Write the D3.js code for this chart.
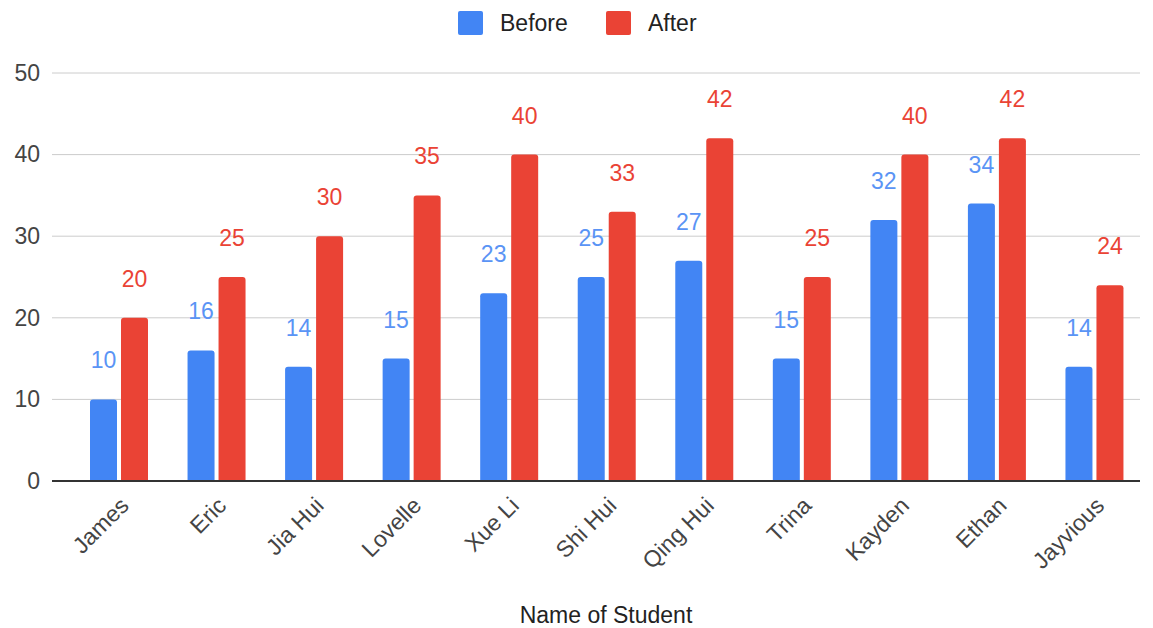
<!DOCTYPE html>
<html>
<head>
<meta charset="utf-8">
<script src="https://cdn.jsdelivr.net/npm/d3@7/dist/d3.min.js"></script>
<style>
  html, body { margin: 0; padding: 0; background: #fff; }
  svg { display: block; font-family: "Liberation Sans", Arial, sans-serif; }
</style>
</head>
<body>
<svg id="chart" width="1153" height="628"></svg>
<script>
// Scores per student, before and after
const students = ["James", "Eric", "Jia Hui", "Lovelle", "Xue Li", "Shi Hui", "Qing Hui", "Trina", "Kayden", "Ethan", "Jayvious"];
const before = [10, 16, 14, 15, 23, 25, 27, 15, 32, 34, 14];
const after = [20, 25, 30, 35, 40, 33, 42, 25, 40, 42, 24];
const seriesNames = ["Before", "After"];
const seriesColors = ["#4285F4", "#EA4335"];
const labelColors = ["#5a94f5", "#ea4335"];
const yTicks = [0, 10, 20, 30, 40, 50];

const FONT = "'Liberation Sans', Arial, sans-serif";
const svg = d3.select("#chart");
const gridLeft = 52, gridRight = 1140;
const plotTop = 73, plotBottom = 481;

const x = d3.scaleBand().domain(students).range([70.3, 1143.3]).paddingInner(0).paddingOuter(0);
const xs = d3.scaleBand().domain(seriesNames).range([19.7, 77.7]).paddingInner(0.129).paddingOuter(0);
const y = d3.scaleLinear().domain([0, 50]).range([plotBottom, plotTop]);

// Horizontal gridlines
svg.append("g").selectAll("line").data(yTicks.filter(t => t > 0)).join("line")
  .attr("x1", gridLeft).attr("x2", gridRight)
  .attr("y1", d => y(d)).attr("y2", d => y(d))
  .attr("stroke", "#cccccc").attr("stroke-width", 1);

// Y axis labels
const yAxis = d3.axisLeft(y).tickValues(yTicks).tickSize(0).tickPadding(0);
const yg = svg.append("g").attr("transform", `translate(40,0)`).call(yAxis);
yg.select(".domain").remove();
yg.selectAll("text").attr("font-size", 23).attr("fill", "#444").attr("font-family", FONT);

const rows = students.map((s, i) => ({ name: s, values: [before[i], after[i]] }));

// Bar with slightly rounded top corners
function barPath(x0, w, yTop, yBase, r) {
  r = Math.min(r, w / 2, yBase - yTop);
  return `M${x0},${yBase}V${yTop + r}Q${x0},${yTop} ${x0 + r},${yTop}H${x0 + w - r}Q${x0 + w},${yTop} ${x0 + w},${yTop + r}V${yBase}Z`;
}

const groups = svg.append("g").selectAll("g").data(rows).join("g")
  .attr("transform", d => `translate(${x(d.name)},0)`);

groups.selectAll("path").data(d => d.values.map((v, k) => ({ v, k }))).join("path")
  .attr("d", d => barPath(xs(seriesNames[d.k]), xs.bandwidth(), y(d.v), y(0), 3))
  .attr("fill", d => seriesColors[d.k]);

// Value labels above each bar
groups.selectAll("text").data(d => d.values.map((v, k) => ({ v, k }))).join("text")
  .attr("x", d => xs(seriesNames[d.k]) + xs.bandwidth() / 2)
  .attr("y", d => y(d.v) - 31)
  .attr("text-anchor", "middle")
  .attr("font-size", 23)
  .attr("fill", d => labelColors[d.k])
  .text(d => d.v);

// Baseline
svg.append("line").attr("x1", gridLeft).attr("x2", gridRight)
  .attr("y1", y(0)).attr("y2", y(0)).attr("stroke", "#333").attr("stroke-width", 2);

// X axis labels, rotated
const xAxis = d3.axisBottom(x).tickSize(0).tickPadding(0);
const xg = svg.append("g").attr("transform", `translate(0,${plotBottom})`).call(xAxis);
xg.select(".domain").remove();
xg.selectAll("text")
  .attr("font-size", 23).attr("fill", "#444").attr("font-family", FONT)
  .attr("text-anchor", "end").attr("dy", null).attr("y", 0)
  .attr("transform", "translate(11,26) rotate(-45)");

// Axis title
svg.append("text").attr("x", 606).attr("y", 623).attr("text-anchor", "middle")
  .attr("font-size", 23).attr("fill", "#222").text("Name of Student");

// Legend
const legend = svg.append("g");
const legendX = [458, 606];
seriesNames.forEach((n, i) => {
  legend.append("rect").attr("x", legendX[i]).attr("y", 11).attr("width", 25).attr("height", 24)
    .attr("rx", 2).attr("fill", seriesColors[i]);
  legend.append("text").attr("x", legendX[i] + 42).attr("y", 31)
    .attr("font-size", 23).attr("fill", "#222").text(n);
});
</script>
</body>
</html>
